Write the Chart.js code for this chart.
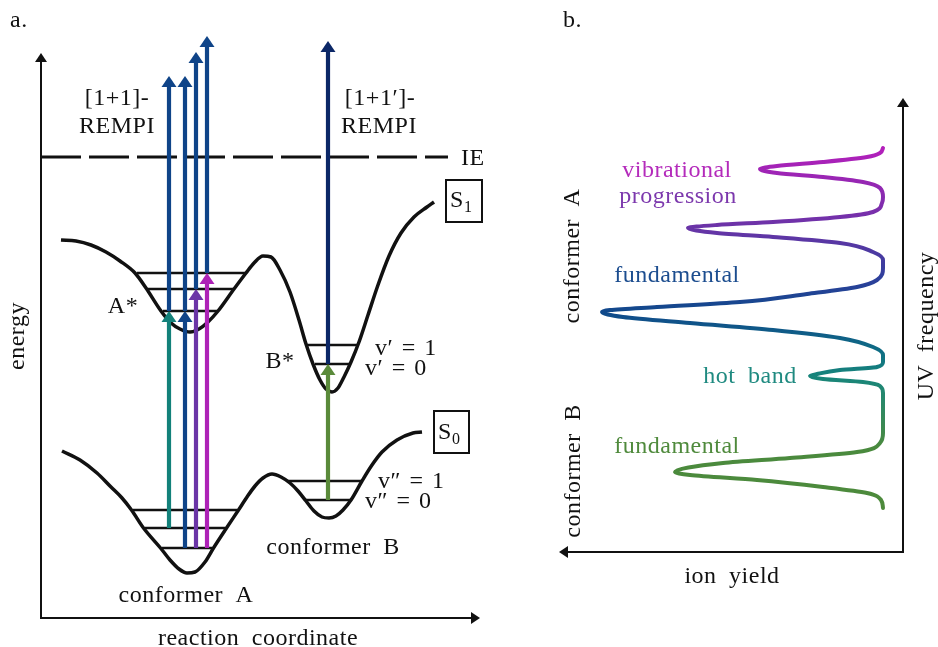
<!DOCTYPE html>
<html><head><meta charset="utf-8">
<script src="https://cdn.jsdelivr.net/npm/chart.js@4.4.1/dist/chart.umd.min.js"></script>
<style>
html,body{margin:0;padding:0;background:#fff;}
#wrap{position:relative;width:938px;height:647px;overflow:hidden;background:#fff;}
#cA{position:absolute;left:0;top:0;}
#cB{position:absolute;left:540px;top:0;}
</style></head><body>
<div id="wrap"><canvas id="cA" width="500" height="647"></canvas><canvas id="cB" width="398" height="647"></canvas></div>
<script>
// ===== Panel a: potential energy curves (reaction coordinate / energy, arbitrary units) =====
const s1Coord  = [20,35,50,65,79,94,105,120,130,139,149,158,167,177,193,205,213,222,230,239,249,258,265,272,279,285,291,297,303,310,318,327,337,348,360,373,386,393];
const s1Energy = [378,377,373,366,357,345,330,307,295,289,286,289,296,307,329,345,355,362,361,348,326,298,274,254,238,229,226,230,241,256,276,303,333,362,385,401,411,416];
const s0Coord  = [21,39,56,70,81,90.5,102.5,119.5,129,138,146,154,164,172.5,185.5,197.5,206,214,222,231,240,249,257,265,273,281,288,295,302,310,321,331,341,356,372,381];
const s0Energy = [167,158,145,131,120,108,90,70,58,49,45,46,56,70,90,108,121,132,140,144,141,135,127,117,107,101,100,102,108,118,137,153,166,178,185,186];
// vibrational levels: energy, left end, right end
const levelEnergy = [345,329,307,273,254,108,90,70,137,118];
const levelLeft   = [96,107,122,266,274,92,104,121,246,264];
const levelRight  = [204,192,176,317,309,196,184,171,321,309];
// ionisation energy
const ieEnergy = 461;
const ieSpan = [0, 407];
// excitation (S0 -> S1) transitions
const exciteCoord = [128,144,155,166,287];
const exciteFrom  = [90,70,70,70,118];
const exciteTo    = [307,307,329,345,254];
// ionisation (S1 -> ion) transitions
const ionizeCoord = [128,144,155,166,287];
const ionizeFrom  = [307,307,329,345,254];
const ionizeTo    = [542,542,566,582,577];

// ===== Panel b: spectrum (UV frequency vs ion yield, arbitrary units) =====
const uvFrequency = [44,52,59,65,72,77,80,89,94,100,109,119,159,166,170,173,176,178,182,185,190,197,205,214,222,229,235,240,242,245,250,258,265,272,284,292,300,309,315,319,324,327,330,335,340,349,355,364,370,375,379,383,386,390,395,399,404];
const ionYield    = [20,22,36,80,146,213,228,180,113,46,23,20,20,23,40,80,93,86,63,26,20,20,30,63,130,213,280,301,293,246,163,96,46,26,20,20,30,63,130,186,215,186,130,63,30,21,20,23,40,80,126,143,126,80,36,23,20];

// ===== styles =====
const INK = '#111111';
const FONT = '"Liberation Serif", "Times New Roman", serif';
const exciteColors = ['#13817a','#0f4488','#6b35a6','#ad22b6','#5a8a3a'];
const ionizeColors = ['#0f4488','#0f4488','#0f4488','#0f4488','#0b2767'];
const spectrumStops = [[44,'#4d8a3b'],[105,'#4a8a3e'],[150,'#2a8868'],[176,'#17857b'],[200,'#0f6e84'],[240,'#10498b'],[275,'#2f3f9c'],[324,'#6934a7'],[365,'#9228b2'],[404,'#b41fbb']];
const HEAD_LEN = 11, HEAD_HALF = 7.5;

const labelsA = [
  {text:'a.', x:-31, y:591, align:'left'},
  {text:'[1+1]-', x:76, y:513},
  {text:'REMPI', x:76, y:485},
  {text:'[1+1\u2032]-', x:339, y:513},
  {text:'REMPI', x:338, y:485},
  {text:'IE', x:420, y:453, align:'left'},
  {text:'A*', x:82, y:305},
  {text:'B*', x:239, y:250},
  {text:'v\u2032 = 1', x:334, y:263, align:'left', ws:2},
  {text:'v\u2032 = 0', x:324, y:243, align:'left', ws:2},
  {text:'v\u2033 = 1', x:337, y:130, align:'left', ws:2},
  {text:'v\u2033 = 0', x:324, y:110, align:'left', ws:2},
  {text:'conformer B', x:292, y:64},
  {text:'conformer A', x:145, y:16},
  {text:'reaction coordinate', x:217, y:-27},
  {text:'energy', x:-23, y:282, rot:-Math.PI/2},
  {text:'S', x:409, y:411, align:'left'}, {text:'1', x:423, y:406, align:'left', size:16},
  {text:'S', x:397, y:179, align:'left'}, {text:'0', x:411, y:174, align:'left', size:16}
];
const boxesA = [{x0:405,x1:441,y0:396,y1:438},{x0:393,x1:428,y0:165,y1:207}];

const labelsB = [
  {text:'b.', x:340, y:525, align:'left'},
  {text:'vibrational', x:226, y:375, color:'#b42bbb'},
  {text:'progression', x:225, y:349, color:'#7c38ad'},
  {text:'fundamental', x:226, y:270, color:'#1c4d8f'},
  {text:'hot band', x:153, y:169, color:'#1f8a80'},
  {text:'fundamental', x:226, y:99, color:'#4f8a3c'},
  {text:'ion yield', x:171, y:-31},
  {text:'UV frequency', x:-24, y:226, rot:-Math.PI/2},
  {text:'conformer A', x:330, y:296, rot:-Math.PI/2},
  {text:'conformer B', x:329, y:81, rot:-Math.PI/2}
];

// ===== helpers =====
function tri(ctx, x, y, dir, len, half) {
  ctx.beginPath();
  if (dir === 'up') { ctx.moveTo(x, y); ctx.lineTo(x - half, y + len); ctx.lineTo(x + half, y + len); }
  else if (dir === 'right') { ctx.moveTo(x, y); ctx.lineTo(x - len, y - half); ctx.lineTo(x - len, y + half); }
  else { ctx.moveTo(x, y); ctx.lineTo(x + len, y - half); ctx.lineTo(x + len, y + half); }
  ctx.closePath(); ctx.fill();
}
function drawLabel(chart, L) {
  const ctx = chart.ctx, xs = chart.scales.x, ys = chart.scales.y;
  const px = xs.getPixelForValue(L.x), py = ys.getPixelForValue(L.y);
  ctx.save();
  ctx.font = (L.size || 24) + 'px ' + FONT;
  ctx.fillStyle = L.color || INK;
  ctx.textAlign = L.align || 'center';
  ctx.textBaseline = L.rot ? 'middle' : 'alphabetic';
  try { ctx.letterSpacing = '0.5px'; ctx.wordSpacing = (L.ws !== undefined ? L.ws : 6) + 'px'; } catch (e) {}
  ctx.translate(px, py);
  if (L.rot) ctx.rotate(L.rot);
  ctx.fillText(L.text, 0, 0);
  ctx.restore();
}
function panelPlugin(cfg) {
  return {
    id: 'panel_' + cfg.name,
    beforeDatasetDraw(chart, args) {
      const ds = chart.data.datasets[args.index];
      if (!ds.arrowHead) return;
      const pts = args.meta.data, tip = pts[pts.length - 1];
      const ctx = chart.ctx;
      ctx.save(); ctx.beginPath();
      ctx.rect(0, tip.y + HEAD_LEN - 1, chart.width, chart.height);
      ctx.clip();
    },
    afterDatasetDraw(chart, args) {
      const ds = chart.data.datasets[args.index];
      if (!ds.arrowHead) return;
      const ctx = chart.ctx;
      ctx.restore();
      const pts = args.meta.data, tip = pts[pts.length - 1];
      ctx.save(); ctx.fillStyle = ds.borderColor;
      tri(ctx, tip.x, tip.y, 'up', HEAD_LEN, HEAD_HALF);
      ctx.restore();
    },
    afterDatasetsDraw(chart) {
      const ctx = chart.ctx, a = chart.chartArea, xs = chart.scales.x, ys = chart.scales.y;
      ctx.save();
      ctx.strokeStyle = INK; ctx.fillStyle = INK; ctx.lineWidth = 2; ctx.lineJoin = 'miter';
      if (cfg.name === 'a') {
        ctx.beginPath();
        ctx.moveTo(a.left, a.top + 6); ctx.lineTo(a.left, a.bottom); ctx.lineTo(a.right - 6, a.bottom);
        ctx.stroke();
        tri(ctx, a.left, a.top, 'up', 9, 6);
        tri(ctx, a.right, a.bottom, 'right', 9, 6);
      } else {
        ctx.beginPath();
        ctx.moveTo(a.right, a.top + 6); ctx.lineTo(a.right, a.bottom); ctx.lineTo(a.left + 6, a.bottom);
        ctx.stroke();
        tri(ctx, a.right, a.top, 'up', 9, 6);
        tri(ctx, a.left, a.bottom, 'left', 9, 6);
      }
      (cfg.boxes || []).forEach(b => {
        const x0 = xs.getPixelForValue(b.x0), x1 = xs.getPixelForValue(b.x1);
        const y0 = ys.getPixelForValue(b.y0), y1 = ys.getPixelForValue(b.y1);
        ctx.lineWidth = 2;
        ctx.strokeRect(Math.min(x0, x1), Math.min(y0, y1), Math.abs(x1 - x0), Math.abs(y1 - y0));
      });
      ctx.restore();
      cfg.labels.forEach(L => drawLabel(chart, L));
    }
  };
}

// ===== panel a datasets =====
const datasetsA = [];
exciteCoord.forEach((c, i) => datasetsA.push({
  data: [{x: c, y: exciteFrom[i]}, {x: c, y: exciteTo[i]}],
  borderColor: exciteColors[i], borderWidth: 4.2, borderCapStyle: 'butt',
  arrowHead: true, order: 0, clip: false
}));
ionizeCoord.forEach((c, i) => datasetsA.push({
  data: [{x: c, y: ionizeFrom[i]}, {x: c, y: ionizeTo[i]}],
  borderColor: ionizeColors[i], borderWidth: 4.2, borderCapStyle: 'butt',
  arrowHead: true, order: 1, clip: false
}));
datasetsA.push({
  data: s1Coord.map((c, i) => ({x: c, y: s1Energy[i]})),
  borderColor: INK, borderWidth: 3.5, cubicInterpolationMode: 'monotone', order: 3, clip: false
});
datasetsA.push({
  data: s0Coord.map((c, i) => ({x: c, y: s0Energy[i]})),
  borderColor: INK, borderWidth: 3.5, cubicInterpolationMode: 'monotone', order: 3, clip: false
});
levelEnergy.forEach((e, i) => datasetsA.push({
  data: [{x: levelLeft[i], y: e}, {x: levelRight[i], y: e}],
  borderColor: INK, borderWidth: 2.6, borderCapStyle: 'butt', order: 4, clip: false
}));
datasetsA.push({
  data: [{x: ieSpan[0], y: ieEnergy}, {x: ieSpan[1], y: ieEnergy}],
  borderColor: INK, borderWidth: 3, borderDash: [40, 8], borderCapStyle: 'butt', order: 5, clip: false
});

const common = {
  responsive: false, animation: false, events: [], devicePixelRatio: 1,
  plugins: {legend: {display: false}, tooltip: {enabled: false}, title: {display: false}},
  elements: {point: {radius: 0, hoverRadius: 0}, line: {borderJoinStyle: 'round', fill: false}}
};

new Chart(document.getElementById('cA'), {
  type: 'line',
  data: {datasets: datasetsA},
  options: Object.assign({}, common, {
    layout: {padding: {left: 41, right: 20, top: 53, bottom: 29}},
    scales: {
      x: {type: 'linear', display: false, min: 0, max: 439},
      y: {type: 'linear', display: false, min: 0, max: 565}
    }
  }),
  plugins: [panelPlugin({name: 'a', labels: labelsA, boxes: boxesA})]
});

// ===== panel b =====
new Chart(document.getElementById('cB'), {
  type: 'line',
  data: {datasets: [{
    data: uvFrequency.map((f, i) => ({x: ionYield[i], y: f})),
    indexAxis: 'y',
    cubicInterpolationMode: 'monotone',
    borderWidth: 4, borderCapStyle: 'round', clip: false,
    borderColor: function (context) {
      const ch = context.chart;
      if (!ch.chartArea) return spectrumStops[0][1];
      const ys = ch.scales.y;
      const f0 = spectrumStops[0][0], f1 = spectrumStops[spectrumStops.length - 1][0];
      const g = ch.ctx.createLinearGradient(0, ys.getPixelForValue(f0), 0, ys.getPixelForValue(f1));
      spectrumStops.forEach(s => g.addColorStop((s[0] - f0) / (f1 - f0), s[1]));
      return g;
    }
  }]},
  options: Object.assign({}, common, {
    layout: {padding: {left: 19, right: 35, top: 98, bottom: 95}},
    scales: {
      x: {type: 'linear', display: false, min: 0, max: 344, reverse: true},
      y: {type: 'linear', display: false, min: 0, max: 454}
    }
  }),
  plugins: [panelPlugin({name: 'b', labels: labelsB, boxes: []})]
});
</script>
</body></html>
